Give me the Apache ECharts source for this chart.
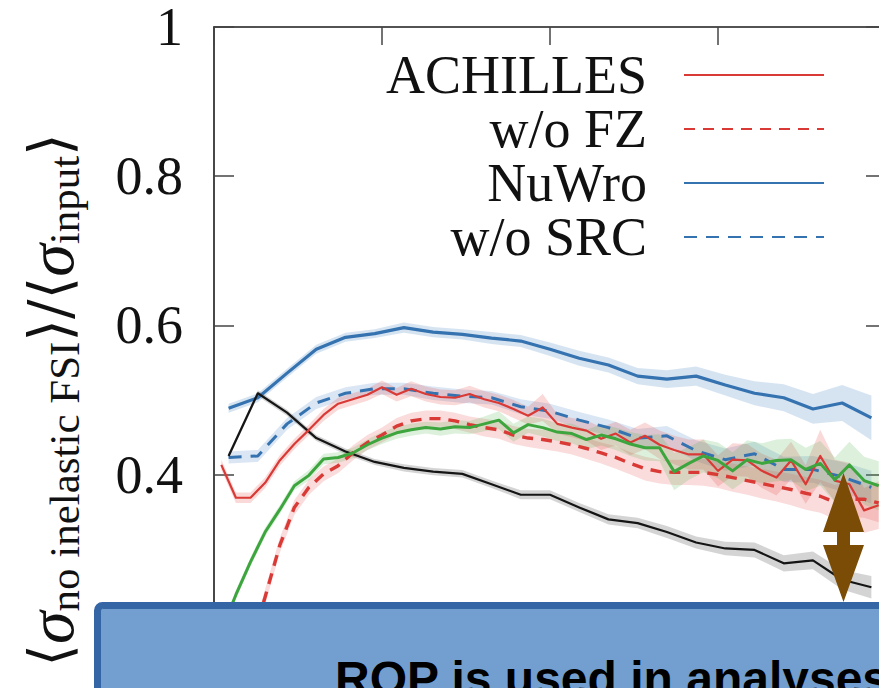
<!DOCTYPE html>
<html>
<head>
<meta charset="utf-8">
<script src="https://cdn.jsdelivr.net/npm/echarts@6/dist/echarts.min.js"></script>
<style>
  html, body { margin: 0; padding: 0; overflow: hidden; background: #fff; width: 879px; height: 688px; }
  #chart { width: 900px; height: 800px; }
</style>
</head>
<body>
<div id="chart"></div>
<script>
// ACHILLES curves: 46 bins over the unit range
const achillesBins = 46;
const achilles     = [0.413, 0.369, 0.369, 0.389, 0.419, 0.441, 0.460, 0.480, 0.495, 0.501, 0.507, 0.517, 0.507, 0.515, 0.508, 0.504, 0.503, 0.508, 0.501, 0.496, 0.488, 0.479, 0.490, 0.468, 0.463, 0.459, 0.448, 0.455, 0.443, 0.452, 0.440, 0.433, 0.427, 0.427, 0.405, 0.420, 0.419, 0.405, 0.396, 0.419, 0.387, 0.425, 0.392, 0.387, 0.352, 0.359];
const achillesErr  = [0.007, 0.007, 0.007, 0.007, 0.007, 0.007, 0.007, 0.008, 0.008, 0.008, 0.008, 0.009, 0.009, 0.010, 0.010, 0.010, 0.010, 0.011, 0.011, 0.011, 0.012, 0.012, 0.018, 0.013, 0.013, 0.014, 0.015, 0.016, 0.017, 0.018, 0.019, 0.019, 0.020, 0.020, 0.021, 0.022, 0.022, 0.023, 0.024, 0.025, 0.026, 0.035, 0.028, 0.029, 0.030, 0.032];
const noFZ         = [0.060, 0.110, 0.170, 0.236, 0.305, 0.356, 0.383, 0.401, 0.412, 0.429, 0.443, 0.453, 0.465, 0.472, 0.475, 0.475, 0.472, 0.467, 0.463, 0.460, 0.453, 0.449, 0.447, 0.444, 0.440, 0.435, 0.429, 0.423, 0.415, 0.408, 0.404, 0.403, 0.403, 0.403, 0.400, 0.396, 0.392, 0.388, 0.384, 0.380, 0.375, 0.371, 0.363, 0.367, 0.367, 0.362];
const noFZErr      = [0.010, 0.010, 0.010, 0.010, 0.010, 0.010, 0.010, 0.010, 0.010, 0.010, 0.010, 0.010, 0.011, 0.011, 0.011, 0.011, 0.011, 0.011, 0.012, 0.012, 0.012, 0.012, 0.013, 0.013, 0.013, 0.014, 0.014, 0.015, 0.015, 0.016, 0.016, 0.017, 0.017, 0.018, 0.018, 0.019, 0.019, 0.020, 0.020, 0.021, 0.022, 0.022, 0.023, 0.024, 0.025, 0.026];
const greenCurve   = [0.190, 0.239, 0.283, 0.323, 0.353, 0.385, 0.399, 0.421, 0.423, 0.429, 0.440, 0.449, 0.456, 0.460, 0.463, 0.461, 0.464, 0.463, 0.468, 0.473, 0.456, 0.467, 0.463, 0.457, 0.455, 0.447, 0.453, 0.448, 0.441, 0.436, 0.436, 0.404, 0.415, 0.425, 0.419, 0.405, 0.420, 0.415, 0.419, 0.420, 0.407, 0.415, 0.393, 0.413, 0.392, 0.385];
const greenErr     = [0.006, 0.006, 0.006, 0.006, 0.006, 0.006, 0.007, 0.007, 0.007, 0.007, 0.007, 0.008, 0.008, 0.008, 0.008, 0.009, 0.009, 0.009, 0.010, 0.012, 0.012, 0.011, 0.012, 0.012, 0.013, 0.013, 0.014, 0.015, 0.016, 0.017, 0.018, 0.025, 0.022, 0.022, 0.024, 0.025, 0.026, 0.027, 0.028, 0.028, 0.029, 0.030, 0.030, 0.031, 0.032, 0.033];

// NuWro curves: 23 bins over the unit range
const nuwroBins = 23;
const nuwro        = [0.489, 0.503, 0.536, 0.568, 0.584, 0.589, 0.597, 0.591, 0.588, 0.583, 0.579, 0.568, 0.556, 0.547, 0.532, 0.528, 0.532, 0.520, 0.509, 0.503, 0.488, 0.496, 0.476];
const nuwroErr     = [0.006, 0.006, 0.006, 0.006, 0.006, 0.006, 0.007, 0.007, 0.007, 0.008, 0.008, 0.009, 0.010, 0.010, 0.011, 0.012, 0.013, 0.014, 0.016, 0.018, 0.020, 0.024, 0.030];
const noSRC        = [0.423, 0.425, 0.468, 0.496, 0.509, 0.515, 0.515, 0.509, 0.505, 0.503, 0.491, 0.485, 0.473, 0.463, 0.449, 0.452, 0.432, 0.420, 0.428, 0.407, 0.407, 0.397, 0.383];
const noSRCErr     = [0.008, 0.008, 0.008, 0.008, 0.008, 0.008, 0.008, 0.009, 0.009, 0.009, 0.010, 0.010, 0.011, 0.011, 0.012, 0.013, 0.014, 0.015, 0.016, 0.017, 0.018, 0.020, 0.022];
const blackCurve   = [0.425, 0.509, 0.483, 0.449, 0.431, 0.417, 0.409, 0.404, 0.401, 0.387, 0.373, 0.373, 0.356, 0.340, 0.335, 0.323, 0.309, 0.301, 0.299, 0.281, 0.285, 0.259, 0.249];
const blackErr     = [0.004, 0.004, 0.004, 0.004, 0.004, 0.004, 0.005, 0.005, 0.005, 0.005, 0.006, 0.006, 0.006, 0.007, 0.007, 0.008, 0.008, 0.009, 0.010, 0.011, 0.012, 0.013, 0.015];

const legendNames = ['ACHILLES', 'w/o FZ', 'NuWro', 'w/o SRC'];
const yTicks = [0, 0.2, 0.4, 0.6, 0.8, 1];

const RED = '#d93a36', BLUE = '#3572b0', GREEN = '#3da53d', BLACK = '#151515';

// bin centres for a histogram of n equal bins on [0, 1]
const centres = n => Array.from({ length: n }, (_, i) => (i + 0.5) / n);
const xA = centres(achillesBins);
const xN = centres(nuwroBins);

function lineSeries(name, xs, ys, color, width, dash) {
  return {
    name, type: 'line', xAxisIndex: 0, yAxisIndex: 0,
    data: xs.map((x, i) => [x, ys[i]]),
    symbol: 'none', showSymbol: false, z: 5, clip: true,
    lineStyle: { color, width, type: dash || 'solid', cap: 'butt', join: 'round' },
    itemStyle: { color },
    emphasis: { disabled: true }
  };
}

// translucent uncertainty band drawn as one polygon through the axis scales
function bandSeries(xs, ys, err, fill) {
  return {
    type: 'custom', xAxisIndex: 0, yAxisIndex: 0, silent: true, z: 2, clip: true,
    data: xs.map((x, i) => [x, ys[i] - err[i], ys[i] + err[i]]),
    encode: { x: 0, y: [1, 2] },
    renderItem: function (params, api) {
      if (params.dataIndex !== 0) return null;
      const up = [], lo = [];
      for (let i = 0; i < xs.length; i++) {
        up.push(api.coord([xs[i], ys[i] + err[i]]));
        lo.push(api.coord([xs[i], ys[i] - err[i]]));
      }
      return { type: 'polygon', shape: { points: up.concat(lo.reverse()) }, style: { fill } };
    }
  };
}

// frame lines sit on the grid edges, not on the zero of the other axis
const axisLine = { show: true, onZero: false, lineStyle: { color: '#1a1a1a', width: 1.6 } };
const tickStyle = { color: '#444', width: 1.5 };

const chart = echarts.init(document.getElementById('chart'), null, { renderer: 'svg' });

chart.setOption({
  animation: false,
  backgroundColor: '#fff',
  grid: { left: 214, top: 27, width: 672, height: 750, containLabel: false },
  xAxis: [
    { type: 'value', min: 0, max: 1, interval: 0.25, position: 'bottom',
      axisLine, axisTick: { inside: true, length: 18, lineStyle: tickStyle },
      axisLabel: { show: false }, splitLine: { show: false } },
    { type: 'value', min: 0, max: 1, interval: 0.25, position: 'top',
      axisLine, axisTick: { inside: true, length: 18, lineStyle: tickStyle },
      axisLabel: { show: false }, splitLine: { show: false } }
  ],
  yAxis: [
    { type: 'value', min: yTicks[0], max: yTicks[yTicks.length - 1], interval: 0.2, position: 'left',
      axisLine, axisTick: { inside: true, length: 20, lineStyle: tickStyle },
      splitLine: { show: false },
      axisLabel: {
        margin: 31, color: '#111', fontFamily: 'Liberation Serif', fontSize: 54,
        formatter: v => (v === 1 ? '1' : v.toFixed(1))
      },
      name: '{a|⟨}{s|σ}{b|no inelastic FSI}{a|⟩/⟨}{s|σ}{b|input}{a|⟩}',
      nameLocation: 'middle', nameRotate: 90, nameGap: 128,
      nameTextStyle: {
        color: '#111', fontFamily: 'Liberation Serif', fontSize: 58,
        rich: {
          a: { fontFamily: 'DejaVu Serif', fontSize: 58, lineHeight: 72, color: '#111' },
          s: { fontFamily: 'Liberation Serif', fontStyle: 'italic', fontSize: 66, lineHeight: 72, color: '#111' },
          b: { fontFamily: 'Liberation Serif', fontSize: 43, lineHeight: 38, verticalAlign: 'bottom', color: '#111' }
        }
      }
    },
    { type: 'value', min: 0, max: 1, interval: 0.2, position: 'right',
      axisLine, axisTick: { inside: true, length: 20, lineStyle: tickStyle },
      axisLabel: { show: false }, splitLine: { show: false } }
  ],
  legend: {
    data: legendNames,
    orient: 'vertical', align: 'right', right: 75, top: 48,
    itemWidth: 140, itemHeight: 2, itemGap: 0, padding: 0,
    selectedMode: false,
    itemStyle: { opacity: 0 },
    formatter: n => '{t|' + n + '}',
    textStyle: {
      fontFamily: 'Liberation Serif', fontSize: 54, color: '#111',
      rich: { t: { fontFamily: 'Liberation Serif', fontSize: 54, lineHeight: 54, color: '#111', padding: [0, 32, 0, 0] } }
    }
  },
  series: [
    bandSeries(xN, nuwro, nuwroErr, 'rgba(70,130,195,0.22)'),
    bandSeries(xN, noSRC, noSRCErr, 'rgba(70,130,195,0.20)'),
    bandSeries(xN, blackCurve, blackErr, 'rgba(0,0,0,0.17)'),
    bandSeries(xA, achilles, achillesErr, 'rgba(230,80,80,0.22)'),
    bandSeries(xA, noFZ, noFZErr, 'rgba(230,80,80,0.20)'),
    bandSeries(xA, greenCurve, greenErr, 'rgba(80,180,80,0.20)'),
    lineSeries('NuWro', xN, nuwro, BLUE, 3.2),
    lineSeries('w/o SRC', xN, noSRC, BLUE, 3, [13, 9]),
    lineSeries('no inelastic (black)', xN, blackCurve, BLACK, 2.2),
    lineSeries('ACHILLES', xA, achilles, RED, 2.2),
    lineSeries('w/o FZ', xA, noFZ, RED, 3.4, [11, 8]),
    lineSeries('green', xA, greenCurve, GREEN, 3)
  ],
  graphic: [
    // brown double-headed arrow
    { type: 'polygon', z: 100,
      shape: { points: [[843.5, 473], [864, 532], [850, 532], [850, 545], [864, 545], [843.5, 602],
                        [823, 545], [837, 545], [837, 532], [823, 532]] },
      style: { fill: '#7b4c05' } },
    // callout box
    { type: 'rect', z: 101,
      shape: { x: 97.5, y: 605.5, width: 900, height: 200, r: 5 },
      style: { fill: '#729fcf', stroke: '#3465a4', lineWidth: 7 } },
    { type: 'text', z: 102, x: 335, y: 654,
      style: { text: 'ROP is used in analyses', fill: '#000', fontFamily: 'Liberation Sans', fontWeight: 'bold',
               fontSize: 48, verticalAlign: 'top', align: 'left' } }
  ]
});
</script>
</body>
</html>
